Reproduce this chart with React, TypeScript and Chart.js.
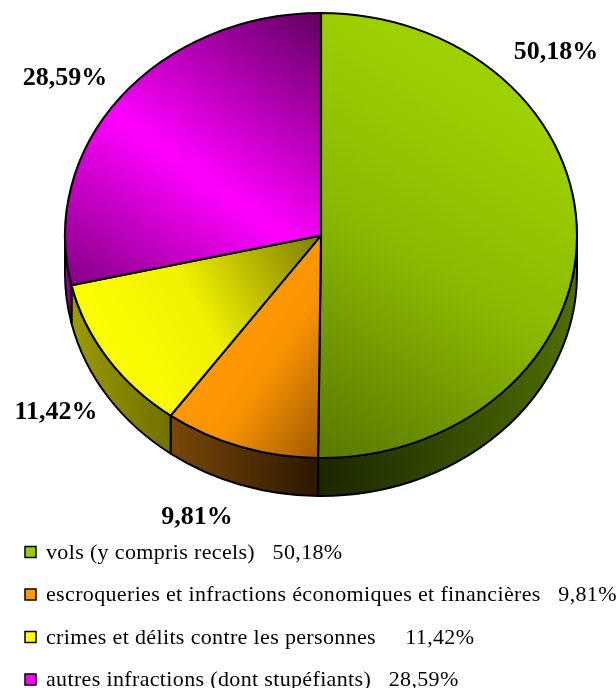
import React, { useEffect, useRef } from 'react';
import { Chart, registerables } from 'chart.js';

Chart.register(...registerables);

// ---- data ----
const categories = [
  'vols (y compris recels)',
  'escroqueries et infractions économiques et financières',
  'crimes et délits contre les personnes',
  'autres infractions (dont stupéfiants)',
];
const shares = [50.18, 9.81, 11.42, 28.59];
const valueLabels = ['50,18%', '9,81%', '11,42%', '28,59%'];
const legendGaps = ['   ', '   ', '     ', '   '];

// ---- styles ----
const baseColors = ['#99CC00', '#FF9900', '#FFFF00', '#FF00FF'];
// top-face gradients in screen coords: [x1, y1, x2, y2, stops]
const topGradients: [number, number, number, number, [number, string][]][] = [
  [575, 150, 320, 460, [[0, '#9dd000'], [0.45, '#8ab800'], [1, '#587800']]],
  [190, 395, 322, 462, [[0, '#ff9900'], [0.35, '#f89300'], [1, '#9a5700']]],
  [80, 330, 320, 236, [[0, '#ffff00'], [0.45, '#f0f000'], [1, '#7c7c00']]],
  [310, 20, 70, 275, [[0, '#6a006a'], [0.55, '#ff00ff'], [1, '#8a008a']]],
];
// wall gradient colours [left, right] in screen x
const wallColors: [string, string][] = [
  ['#1a2600', '#4f6e00'],
  ['#7a4808', '#2c1700'],
  ['#9a9a00', '#707000'],
  ['#990099', '#7a007a'],
];

const E = { cx: 321, cy: 235.5, rx: 256, ry: 222.5, depth: 38 };
const labelAnchors = [
  [556, 52],
  [197, 517],
  [56, 412],
  [65, 78],
];

const pie3d = {
  id: 'pie3d',
  beforeDatasetsDraw(chart: any) {
    const ctx = chart.ctx as CanvasRenderingContext2D;
    const arcs = chart.getDatasetMeta(0).data as any[];
    if (!arcs.length) return;
    // side walls (front half: angles 0..PI)
    arcs.forEach((arc, i) => {
      const { startAngle, endAngle } = arc.getProps(['startAngle', 'endAngle'], true);
      const lo = Math.max(startAngle, 0);
      const hi = Math.min(endAngle, Math.PI);
      if (hi <= lo) return;
      const x1 = E.cx + E.rx * Math.cos(lo);
      const x2 = E.cx + E.rx * Math.cos(hi);
      const g = ctx.createLinearGradient(Math.min(x1, x2), 0, Math.max(x1, x2), 0);
      const [cl, cr] = wallColors[i];
      g.addColorStop(0, cl);
      g.addColorStop(1, cr);
      ctx.save();
      ctx.beginPath();
      ctx.ellipse(E.cx, E.cy, E.rx, E.ry, 0, lo, hi, false);
      ctx.ellipse(E.cx, E.cy + E.depth, E.rx, E.ry, 0, hi, lo, true);
      ctx.closePath();
      ctx.fillStyle = g;
      ctx.fill();
      ctx.lineWidth = 2;
      ctx.strokeStyle = '#000';
      ctx.lineJoin = 'round';
      ctx.stroke();
      ctx.restore();
    });
    const { x, y, outerRadius } = arcs[0].getProps(['x', 'y', 'outerRadius'], true);
    ctx.save();
    ctx.translate(E.cx, E.cy);
    ctx.scale(E.rx / outerRadius, E.ry / outerRadius);
    ctx.translate(-x, -y);
  },
  afterDatasetsDraw(chart: any) {
    chart.ctx.restore();
  },
  afterDraw(chart: any) {
    const ctx = chart.ctx as CanvasRenderingContext2D;
    ctx.save();
    // value labels
    ctx.font = 'bold 26px "Liberation Serif", "Times New Roman", serif';
    ctx.fillStyle = '#000';
    ctx.textAlign = 'center';
    ctx.textBaseline = 'middle';
    valueLabels.forEach((t, i) => {
      ctx.fillText(t, labelAnchors[i][0], labelAnchors[i][1]);
    });
    // legend
    ctx.font = '22px "Liberation Serif", "Times New Roman", serif';
    (ctx as any).letterSpacing = '0.35px';
    ctx.textAlign = 'left';
    categories.forEach((c, i) => {
      const yy = 552 + i * 42.5;
      ctx.fillStyle = baseColors[i];
      ctx.fillRect(25, yy - 5.5, 11, 11);
      ctx.lineWidth = 1.5;
      ctx.strokeStyle = '#000';
      ctx.strokeRect(25, yy - 5.5, 11, 11);
      ctx.fillStyle = '#000';
      ctx.fillText(c + legendGaps[i] + valueLabels[i], 46, yy + 1);
    });
    ctx.restore();
  },
};

export default function App() {
  const ref = useRef<HTMLCanvasElement>(null);
  useEffect(() => {
    document.body.style.margin = '0';
    const canvas = ref.current!;
    const chart = new Chart(canvas, {
      type: 'pie',
      data: {
        labels: categories,
        datasets: [
          {
            data: shares,
            clip: false as any,
            borderColor: '#000',
            borderWidth: 2,
            backgroundColor: (c: any) => {
              const chart = c.chart;
              const area = chart.chartArea;
              if (c.type !== 'data' || !area) return baseColors[c.dataIndex ?? 0];
              const ctrl = chart.getDatasetMeta(0).controller as any;
              const R = ctrl.outerRadius || 1;
              const x0 = (area.left + area.right) / 2;
              const y0 = (area.top + area.bottom) / 2;
              const mx = (X: number) => x0 + ((X - E.cx) * R) / E.rx;
              const my = (Y: number) => y0 + ((Y - E.cy) * R) / E.ry;
              const [X1, Y1, X2, Y2, stops] = topGradients[c.dataIndex];
              const g = chart.ctx.createLinearGradient(mx(X1), my(Y1), mx(X2), my(Y2));
              stops.forEach(([o, col]) => g.addColorStop(o, col));
              return g;
            },
          },
        ],
      },
      options: {
        responsive: false,
        animation: false,
        events: [],
        layout: { padding: { top: 0, bottom: 200, left: 0, right: 0 } },
        plugins: {
          legend: { display: false },
          tooltip: { enabled: false },
        },
      },
      plugins: [pie3d],
    });
    return () => chart.destroy();
  }, []);
  return (
    <div style={{ width: 616, height: 688 }}>
      <canvas ref={ref} width={616} height={688} style={{ display: 'block' }} />
    </div>
  );
}
